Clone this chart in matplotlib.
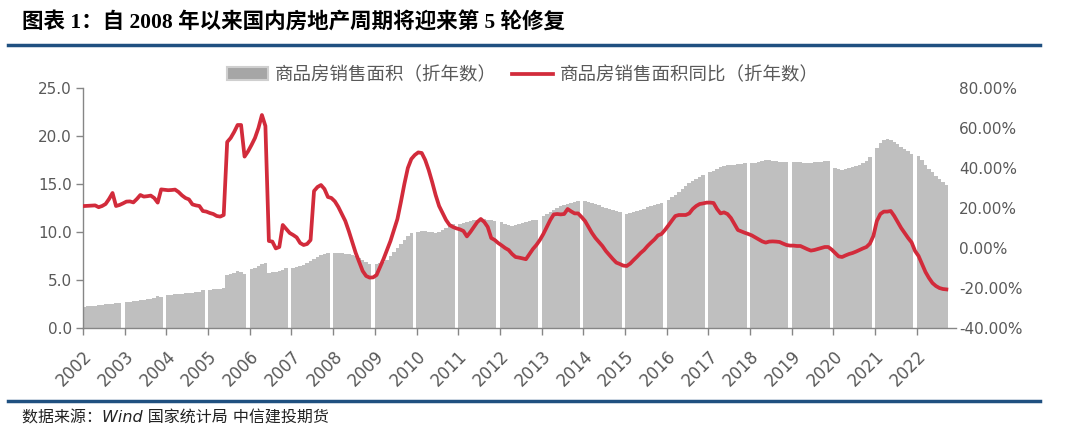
import matplotlib
matplotlib.use('Agg')
import matplotlib.pyplot as plt
from matplotlib.lines import Line2D
from matplotlib.patches import Patch
import matplotlib.ticker as mticker

plt.rcParams['font.family'] = ['DejaVu Sans', 'Noto Sans CJK SC']

# 商品房销售面积（折年数），每年 2-12 月（1 月无数据），2022 年到 10 月
area = [
    2.2, 2.25, 2.3, 2.3, 2.35, 2.4, 2.45, 2.5, 2.55, 2.6, 2.65,          # 2002
    2.7, 2.75, 2.8, 2.85, 2.9, 2.95, 3.0, 3.05, 3.1, 3.3, 3.2,           # 2003
    3.4, 3.45, 3.5, 3.5, 3.55, 3.6, 3.6, 3.65, 3.7, 3.8, 3.95,           # 2004
    4.0, 4.05, 4.05, 4.1, 4.15, 5.5, 5.6, 5.75, 5.9, 5.8, 5.6,           # 2005
    6.1, 6.3, 6.5, 6.7, 6.8, 5.7, 5.8, 5.8, 5.9, 6.0, 6.3,               # 2006
    6.3, 6.4, 6.5, 6.6, 6.8, 7.0, 7.2, 7.4, 7.6, 7.75, 7.85,             # 2007
    7.85, 7.8, 7.8, 7.75, 7.7, 7.6, 7.5, 7.3, 7.1, 6.9, 6.7,             # 2008
    6.7, 6.75, 6.9, 7.1, 7.5, 7.9, 8.3, 8.7, 9.2, 9.6, 9.9,              # 2009
    10.0, 10.1, 10.1, 10.0, 9.95, 9.9, 10.0, 10.2, 10.4, 10.6, 10.8,     # 2010
    10.8, 10.9, 11.0, 11.1, 11.2, 11.3, 11.35, 11.35, 11.3, 11.2, 11.1,  # 2011
    11.0, 10.8, 10.7, 10.65, 10.7, 10.8, 10.9, 11.0, 11.1, 11.2, 11.3,   # 2012
    11.7, 11.9, 12.1, 12.3, 12.5, 12.7, 12.8, 12.9, 13.0, 13.1, 13.2,    # 2013
    13.2, 13.1, 13.0, 12.9, 12.8, 12.6, 12.5, 12.4, 12.3, 12.2, 12.1,    # 2014
    11.9, 12.0, 12.1, 12.2, 12.3, 12.4, 12.6, 12.7, 12.8, 12.9, 13.0,    # 2015
    13.3, 13.6, 13.9, 14.2, 14.5, 14.8, 15.1, 15.3, 15.5, 15.7, 15.9,    # 2016
    16.2, 16.4, 16.6, 16.8, 16.9, 17.0, 17.0, 17.0, 17.05, 17.1, 17.15,  # 2017
    17.15, 17.2, 17.3, 17.4, 17.5, 17.45, 17.4, 17.35, 17.3, 17.3, 17.3, # 2018
    17.3, 17.3, 17.25, 17.2, 17.2, 17.2, 17.25, 17.3, 17.3, 17.35, 17.4, # 2019
    16.7, 16.6, 16.5, 16.6, 16.7, 16.8, 16.9, 17.0, 17.2, 17.4, 17.8,    # 2020
    18.8, 19.3, 19.6, 19.7, 19.6, 19.4, 19.2, 18.9, 18.6, 18.4, 18.1,    # 2021
    17.9, 17.5, 17.0, 16.6, 16.2, 15.8, 15.5, 15.2, 14.9,                # 2022
]

# 商品房销售面积同比（折年数，%），2002 年 2 月起逐月，2022 年到 10 月
yoy = [
    21.0, 21.1, 21.2, 21.3, 20.4, 21.0, 22.0, 24.5, 27.5, 21.0, 21.5,           # 2002
    22.3, 23.2, 23.3, 22.8, 24.5, 26.5, 25.7, 25.9, 26.2, 25.0, 22.7, 29.3,     # 2003
    29.1, 28.9, 29.0, 29.2, 28.0, 26.3, 25.0, 24.3, 21.8, 21.3, 21.0, 18.5,     # 2004
    18.2, 17.5, 17.0, 16.0, 15.7, 16.5, 53.0, 55.0, 58.0, 61.5, 61.5, 45.7,     # 2005
    48.3, 51.5, 55.0, 60.0, 66.5, 61.0, 3.5, 3.2, -0.2, 0.5, 11.5, 9.5,         # 2006
    7.5, 6.5, 5.3, 2.5, 1.5, 2.0, 4.0, 28.5, 30.5, 31.5, 29.5, 25.5,            # 2007
    25.0, 23.3, 20.5, 17.0, 13.5, 8.5, 3.0, -2.5, -7.0, -11.5, -14.0, -14.8,    # 2008
    -14.7, -13.5, -9.5, -5.5, -1.0, 3.5, 9.0, 14.5, 23.0, 32.0, 40.0, 44.5,     # 2009
    46.5, 47.8, 47.5, 44.0, 39.0, 33.0, 26.5, 21.0, 17.5, 14.0, 11.5, 10.5,     # 2010
    9.8, 9.3, 8.5, 5.8, 8.0, 10.5, 13.0, 14.5, 13.0, 10.5, 5.0, 4.0,            # 2011
    2.5, 1.3, 0.0, -1.0, -3.0, -4.5, -4.8, -5.2, -5.6, -3.0, -0.5, 1.5,         # 2012
    4.0, 7.0, 10.5, 14.0, 16.8, 17.0, 16.8, 17.0, 19.5, 18.3, 17.3, 17.3,       # 2013
    15.5, 13.5, 10.5, 7.5, 5.0, 3.0, 1.0, -1.5, -3.5, -5.5, -7.3, -8.0,         # 2014
    -8.8, -9.0, -7.8, -6.0, -4.3, -2.5, -1.0, 1.0, 2.7, 4.3, 6.3, 7.0,          # 2015
    9.0, 11.3, 13.7, 16.0, 16.5, 16.5, 16.5, 17.3, 19.5, 21.0, 22.0, 22.3,      # 2016
    22.7, 22.7, 22.5, 19.5, 17.3, 17.8, 17.0, 15.0, 12.0, 9.0, 8.3, 7.6,        # 2017
    7.0, 6.3, 5.3, 4.3, 3.3, 2.7, 3.2, 3.3, 3.2, 3.0, 2.2, 1.5,                 # 2018
    1.2, 1.2, 1.0, 1.0, 0.2, -0.6, -1.3, -1.0, -0.5, 0.0, 0.5, 0.5,             # 2019
    -0.8, -2.5, -4.2, -4.5, -3.7, -3.0, -2.5, -1.8, -1.0, -0.2, 0.5, 2.2,       # 2020
    6.0, 13.5, 17.0, 18.2, 18.2, 18.5, 16.0, 13.0, 10.0, 7.5, 5.0, 2.8,         # 2021
    -1.5, -4.0, -8.0, -12.0, -15.0, -17.5, -19.0, -20.0, -20.5, -20.7,          # 2022
]

years = list(range(2002, 2023))
title = '图表 1：自 2008 年以来国内房地产周期将迎来第 5 轮修复'
source = '数据来源：Wind 国家统计局 中信建投期货'
bar_label = '商品房销售面积（折年数）'
line_label = '商品房销售面积同比（折年数）'

bar_color = '#bfbfbf'
line_color = '#d22b3b'
text_color = '#595959'
axis_color = '#868686'
rule_color = '#1f5080'

# month m of year y sits at y + (m - 1.5)/12, width one month
bar_x = []
for y in years:
    for m in range(2, 13):
        bar_x.append(y + (m - 1.5) / 12)
bar_x = bar_x[:len(area)]

line_x = []
for y in years:
    for m in range(1, 13):
        if y == 2002 and m == 1:
            continue
        line_x.append(y + (m - 1.5) / 12)
line_x = line_x[:len(yoy)]

W, H = 1067, 437
fig = plt.figure(figsize=(W / 100, H / 100), dpi=100)
ax = fig.add_axes([83 / W, 1 - 328 / H, (956 - 83) / W, (328 - 88) / H])
ax.bar(bar_x, area, width=1 / 12 * 1.02, color=bar_color, linewidth=0, label=bar_label)
ax.set_xlim(2002, 2022.94)
ax.set_ylim(0, 25)
ax.set_yticks([0, 5, 10, 15, 20, 25])
ax.yaxis.set_major_formatter(mticker.FormatStrFormatter('%.1f'))
ax.set_xticks(years)
ax.set_xticklabels([str(y) for y in years], rotation=45, ha='right',
                   rotation_mode='anchor')
for s in ['top', 'right']:
    ax.spines[s].set_visible(False)
for s in ['left', 'bottom']:
    ax.spines[s].set_color(axis_color)
    ax.spines[s].set_linewidth(1.0)
ax.tick_params(axis='y', colors=axis_color, labelcolor=text_color, labelsize=11,
               length=5, width=1, pad=3)
ax.tick_params(axis='x', colors=axis_color, labelcolor=text_color, labelsize=12,
               length=5, width=1, pad=9)

ax2 = ax.twinx()
ax2.plot(line_x, yoy, color=line_color, linewidth=2.7, solid_joinstyle='round',
         label=line_label)
ax2.set_ylim(-40, 80)
ax2.set_yticks([-40, -20, 0, 20, 40, 60, 80])
ax2.yaxis.set_major_formatter(mticker.FuncFormatter(lambda v, p: '%.2f%%' % v))
for s in ['top', 'right', 'left', 'bottom']:
    ax2.spines[s].set_visible(False)
ax2.tick_params(axis='y', length=0, labelcolor=text_color, labelsize=11, pad=2)

handles = [Patch(facecolor='#a6a6a6', edgecolor='#cfcfcf', linewidth=1.5),
           Line2D([0], [0], color=line_color, linewidth=2.7)]
leg = fig.legend(handles, [bar_label, line_label], loc='center',
                 bbox_to_anchor=(523 / W, 1 - 75 / H), ncol=2, frameon=False,
                 fontsize=13.3, handlelength=2.2, handletextpad=0.4,
                 columnspacing=0.8)
for t in leg.get_texts():
    t.set_color(text_color)

fig.text(22 / W, 1 - 23 / H, title, fontsize=15.5, fontweight='bold', va='center',
         ha='left', family=['Liberation Serif', 'Noto Sans CJK SC'])
fig.add_artist(Line2D([8 / W, 1040 / W], [1 - 45 / H] * 2, color=rule_color,
                      linewidth=2.5))
fig.add_artist(Line2D([8 / W, 1040 / W], [1 - 401 / H] * 2, color=rule_color,
                      linewidth=2.5))
fig.text(22 / W, 1 - 418 / H, source, fontsize=11.5, style='italic', va='center',
         ha='left', color='#222222')

fig.savefig('out.png', dpi=100)
